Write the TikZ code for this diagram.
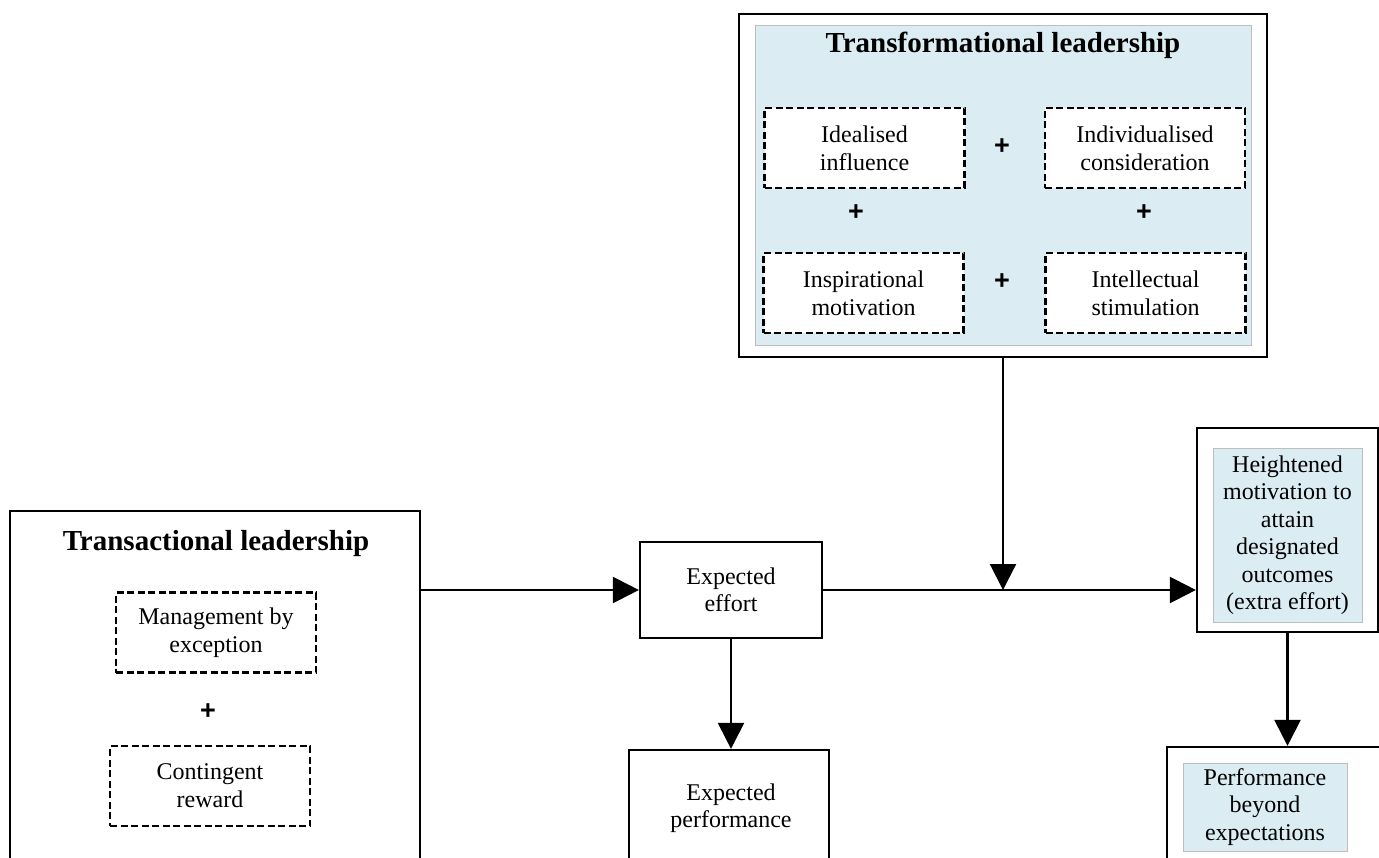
\documentclass[tikz,border=0pt]{standalone}
\usepackage{fontspec}
\setmainfont{Liberation Serif}
\newfontfamily\plusfont{Liberation Sans}
\usetikzlibrary{arrows.meta}
\definecolor{lightfill}{RGB}{219,237,243}
\definecolor{innerline}{RGB}{190,190,190}
\begin{document}
\begin{tikzpicture}[x=1pt,y=-1pt,
  outerbox/.style={draw, line width=2.2pt, fill=white, inner sep=0pt},
  innerbox/.style={draw=innerline, line width=0.8pt, fill=lightfill, inner sep=0pt},
  dbox/.style={draw, dash pattern=on 7pt off 3.5pt, line width=2.3pt, fill=white, minimum width=200pt, minimum height=80pt, inner sep=0pt, align=center, font=\fontsize{24}{28}\selectfont},
  txt/.style={align=center, font=\fontsize{24}{27.5}\selectfont},
  ttl/.style={font=\fontsize{29}{33}\selectfont\bfseries},
  plus/.style={font=\plusfont\fontsize{27}{28}\selectfont\bfseries, inner sep=0pt},
  arr/.style={line width=2.2pt, -{Triangle[length=26pt,width=26pt]}}
]
\useasboundingbox (0,0) rectangle (1379,858);
\clip (0,0) rectangle (1379,858);
\fill[white] (0,0) rectangle (1379,858);

% Transformational leadership
\node[outerbox, minimum width=528pt, minimum height=343pt] (tf) at (1003,185.5) {};
\node[innerbox, minimum width=496pt, minimum height=320pt] (tfin) at (1003,185) {};
\node[ttl, anchor=base] (tft) at (1003,53) {Transformational leadership};
\node[dbox] (ii) at (864.5,148) {Idealised\\influence};
\node[dbox] (ic) at (1145,148) {Individualised\\consideration};
\node[dbox] (im) at (863.5,293) {Inspirational\\motivation};
\node[dbox] (is) at (1145.5,293) {Intellectual\\stimulation};
\node[plus] (p1) at (1002,147) {+};
\node[plus] (p2) at (856,213) {+};
\node[plus] (p3) at (1144,213) {+};
\node[plus] (p4) at (1002,282) {+};

% Transactional leadership
\node[outerbox, minimum width=410pt, minimum height=400pt] (tl) at (215,711) {};
\node[ttl, anchor=base] (tlt) at (216,550) {Transactional leadership};
\node[dbox] (mbe) at (216,632.5) {Management by\\exception};
\node[plus] (p5) at (208,712) {+};
\node[dbox] (cr) at (210,786) {Contingent\\reward};

% Expected effort / performance
\node[outerbox, txt, minimum width=182pt, minimum height=96pt] (ee) at (731,590) {Expected\\effort};
\node[outerbox, minimum width=200pt, minimum height=150pt] (ep) at (729,825) {};
\node[txt] (ept) at (731,808) {Expected\\performance};

% Heightened motivation
\node[outerbox, minimum width=181pt, minimum height=204pt] (hm) at (1287.5,530) {};
\node[innerbox, txt, minimum width=149pt, minimum height=174pt] (hmi) at (1287.5,535) {Heightened\\motivation to\\attain\\designated\\outcomes\\(extra effort)};

% Performance beyond expectations
\node[outerbox, minimum width=223pt, minimum height=153pt] (pb) at (1278.5,823.5) {};
\node[innerbox, txt, minimum width=164pt, minimum height=88pt] (pbi) at (1265,807) {Performance\\beyond\\expectations};

% Connectors
\draw[arr] (tl.east |- ee.west) -- (ee.west);
\draw[arr] (ee.east) -- (ee.east -| hm.west);
\draw[arr] (tf.south) -- (tf.south |- ee.east);
\draw[arr] (ee.south) -- (ee.south |- ep.north);
\draw[arr] (hm.south) -- (hm.south |- pb.north);
\end{tikzpicture}
\end{document}
